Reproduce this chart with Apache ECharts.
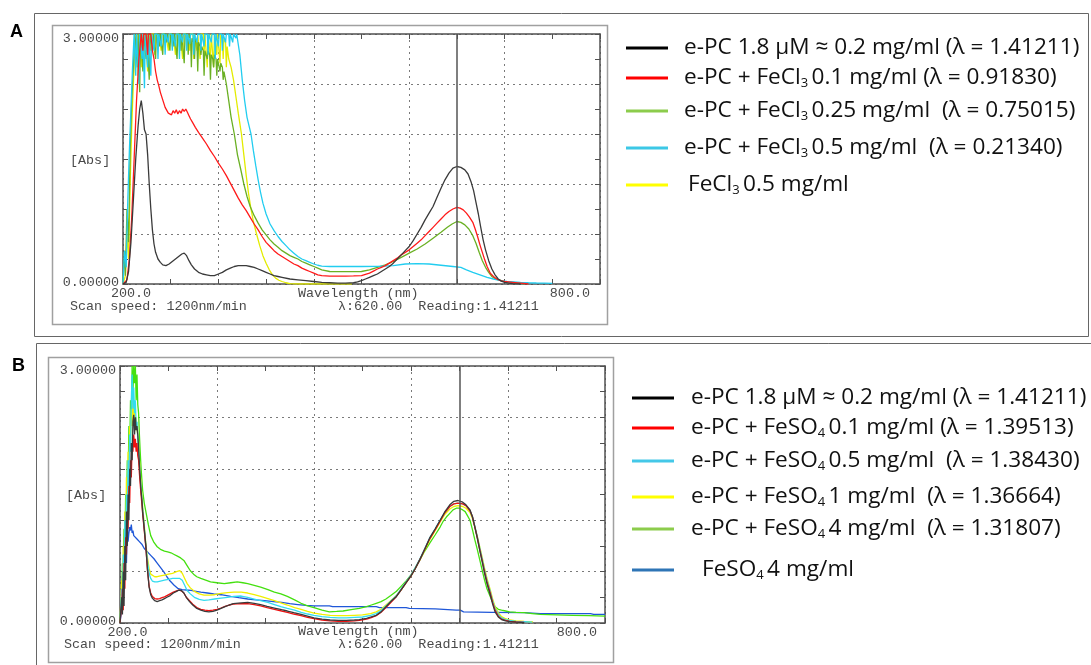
<!DOCTYPE html>
<html><head><meta charset="utf-8">
<script src="https://cdn.jsdelivr.net/npm/echarts@6/dist/echarts.min.js"></script>
<style>html,body{margin:0;padding:0;background:#fff;}#c{width:1091px;height:665px;}</style>
</head><body><div id="c"></div>
<script>
// ---------- Panel A (FeCl3) : [wavelength nm, Abs] ----------
const aBlack = [[200,0],[204,0.02],[207,0.15],[210,0.5],[213,1.0],[216,1.5],[219,1.9],[221,2.1],[223,2.2],[225,2.05],[227,1.85],[229,1.8],[231,1.55],[233,1.2],[235,0.9],[237,0.65],[239,0.48],[241,0.38],[244,0.3],[247,0.26],[250,0.23],[254,0.22],[258,0.24],[262,0.27],[266,0.3],[270,0.33],[274,0.36],[277,0.37],[280,0.34],[283,0.28],[286,0.23],[290,0.18],[295,0.14],[300,0.12],[305,0.11],[310,0.1],[315,0.1],[320,0.12],[325,0.14],[330,0.17],[335,0.19],[340,0.21],[345,0.22],[350,0.22],[355,0.22],[360,0.21],[365,0.2],[370,0.18],[375,0.16],[380,0.14],[385,0.12],[390,0.1],[395,0.09],[400,0.08],[410,0.06],[420,0.05],[430,0.04],[440,0.03],[450,0.02],[460,0.015],[470,0.01],[480,0.01],[490,0.015],[495,0.025],[500,0.04],[505,0.06],[510,0.08],[515,0.1],[520,0.12],[525,0.15],[530,0.18],[535,0.21],[540,0.25],[545,0.3],[550,0.35],[555,0.4],[560,0.45],[565,0.52],[570,0.6],[575,0.68],[580,0.77],[585,0.85],[590,0.93],[595,1.04],[600,1.15],[605,1.25],[610,1.33],[615,1.39],[620,1.41],[625,1.4],[630,1.37],[634,1.32],[638,1.22],[641,1.12],[644,0.98],[647,0.84],[650,0.68],[653,0.53],[656,0.41],[660,0.28],[664,0.18],[668,0.11],[672,0.06],[676,0.035],[680,0.02],[685,0.01],[690,0.005],[700,0]];
const aRed = [[200,0],[205,0.05],[208,0.3],[211,0.8],[214,1.5],[217,2.2],[220,2.7],[223,3],[225,2.8],[226,3],[229,3],[231,2.75],[232,3],[235,3],[237,2.8],[239,2.7],[241,2.55],[243,2.45],[245,2.38],[247,2.3],[249,2.24],[251,2.18],[253,2.12],[255,2.1],[257,2.05],[259,2.07],[261,2.03],[263,2.08],[265,2.05],[267,2.09],[269,2.04],[271,2.08],[273,2.05],[275,2.1],[277,2.07],[279,2.1],[281,2.06],[283,2.02],[285,1.98],[288,1.93],[291,1.88],[295,1.82],[300,1.75],[305,1.68],[310,1.6],[315,1.53],[320,1.45],[325,1.38],[330,1.3],[335,1.21],[340,1.12],[345,1.03],[350,0.95],[355,0.88],[360,0.8],[365,0.72],[370,0.65],[375,0.57],[380,0.5],[385,0.45],[390,0.4],[395,0.36],[400,0.33],[405,0.3],[410,0.27],[415,0.24],[420,0.22],[425,0.19],[430,0.17],[435,0.15],[440,0.13],[445,0.11],[450,0.1],[460,0.095],[470,0.095],[480,0.095],[490,0.097],[500,0.1],[505,0.115],[510,0.13],[515,0.155],[520,0.18],[525,0.2],[530,0.22],[535,0.25],[540,0.28],[545,0.31],[550,0.35],[555,0.38],[560,0.41],[565,0.45],[570,0.49],[575,0.53],[580,0.58],[585,0.63],[590,0.68],[595,0.73],[600,0.78],[605,0.83],[610,0.87],[615,0.9],[620,0.92],[624,0.91],[628,0.89],[632,0.85],[636,0.8],[640,0.74],[643,0.66],[646,0.57],[649,0.47],[652,0.38],[655,0.29],[658,0.21],[662,0.13],[666,0.09],[670,0.06],[675,0.04],[680,0.03],[690,0.02],[700,0.01],[710,0]];
const aGreen = [[200,0],[202,0.4],[203,0.1],[205,0.9],[207,0.5],[209,1.6],[211,2.2],[213,2.6],[215,3],
  [217,3],[218,2.6],[219,3],[220,3],[221,2.3],[222,3],[224,3],[225,2.55],[226,3],[228,3],[229,2.7],[230,3],[232,3],[233,2.45],[234,3],[236,3],[237,2.8],[238,3],[240,3],[241,2.7],[242,3],[245,3],[246,2.85],[247,3],[249,3],[250,2.75],[251,3],[254,3],[255,2.9],[256,3],[258,3],[259,2.8],[260,3],[263,3],[264,2.85],[265,3],[267,3],[268,2.7],[269,3],[272,3],[273,2.8],[274,3],[276,3],[277,2.65],[278,3],[281,3],[282,2.75],[283,3],[285,2.95],[286,2.6],[287,2.95],[289,2.9],[290,2.7],[291,2.95],[293,2.9],[294,2.55],[295,2.9],[297,2.85],[298,2.75],[299,2.85],[301,2.8],[302,2.5],[303,2.8],[305,2.8],[306,2.7],[307,2.8],[309,2.75],[310,2.45],[311,2.75],[313,2.7],[314,2.6],[315,2.75],[317,2.7],[318,2.5],[319,2.7],[321,2.68],[322,2.55],[323,2.65],[325,2.6],[326,2.45],[327,2.55],
  [330,2.4],[333,2.2],[336,2.0],[340,1.8],[344,1.55],[348,1.38],[352,1.2],[356,1.05],[360,0.93],[365,0.82],[370,0.73],[375,0.65],[380,0.59],[385,0.53],[390,0.48],[395,0.44],[400,0.4],[405,0.37],[410,0.34],[415,0.32],[420,0.3],[425,0.27],[430,0.25],[435,0.23],[440,0.21],[445,0.19],[450,0.17],[460,0.15],[480,0.148],[500,0.15],[510,0.17],[520,0.2],[530,0.23],[540,0.27],[550,0.32],[560,0.37],[570,0.42],[580,0.48],[590,0.55],[600,0.62],[608,0.68],[614,0.72],[620,0.75],[625,0.74],[630,0.71],[635,0.66],[640,0.58],[644,0.49],[648,0.38],[652,0.28],[656,0.2],[660,0.14],[664,0.09],[668,0.065],[672,0.05],[680,0.03],[690,0.02],[700,0.01],[705,0]];
const aCyan = [[200,0],[202,0.4],[204,0.2],[206,1.0],[208,1.6],[210,2.1],[212,2.6],[214,3],
  [215,3],[216,2.5],[217,3],[219,3],[220,2.4],[221,3],[223,3],[224,2.7],[225,3],[226,3],[227,2.35],[228,3],[230,3],[231,2.6],[232,3],[234,3],[235,2.5],[236,3],[238,3],[239,2.8],[240,3],[243,3],[244,2.7],[245,3],[247,3],[248,2.85],[249,3],[252,3],[253,2.75],[254,3],[256,3],[257,2.9],[258,3],[261,3],[262,2.8],[263,3],[265,3],[266,2.85],[267,3],[270,3],[271,2.7],[272,3],[274,3],[275,2.9],[276,3],[279,3],[280,2.8],[281,3],[283,3],[284,2.88],[285,3],[288,3],[289,2.75],[290,3],[292,3],[293,2.9],[294,3],[297,3],[298,2.8],[299,3],[301,3],[302,2.85],[303,3],[306,3],[307,2.75],[308,3],[310,3],[311,2.9],[312,3],[315,3],[316,2.7],[317,3],[319,3],[320,2.85],[321,3],[324,3],[325,2.8],[326,3],[328,3],[329,2.9],[330,3],[333,3],[334,2.85],[335,3],[337,3],[338,2.9],[339,3],[341,3],[342,2.95],[343,3],[345,3],
  [347,2.75],[350,2.45],[353,2.2],[356,2.0],[359,1.88],[361,1.8],[364,1.6],[367,1.42],[370,1.25],[373,1.1],[376,0.97],[380,0.84],[385,0.72],[390,0.64],[395,0.57],[400,0.51],[405,0.46],[410,0.41],[415,0.37],[420,0.33],[425,0.3],[430,0.28],[435,0.26],[440,0.24],[445,0.225],[450,0.215],[460,0.21],[480,0.21],[500,0.21],[520,0.212],[540,0.22],[555,0.24],[570,0.245],[585,0.24],[600,0.225],[615,0.21],[625,0.2],[632,0.17],[640,0.14],[649,0.11],[658,0.08],[666,0.06],[675,0.04],[683,0.03],[692,0.025],[700,0.02],[710,0.015],[720,0.012],[730,0.01],[740,0.008]];
const aYellow = [[200,0],[203,0.1],[205,0.6],[207,0.3],[209,1.2],[211,1.9],[213,2.4],[215,2.8],[217,3],
  [218,3],[219,2.5],[220,3],[222,3],[223,2.6],[224,3],[226,3],[227,2.7],[228,3],[230,3],[231,2.55],[232,3],[234,3],[235,2.8],[236,3],[239,3],[240,2.75],[241,3],[243,3],[244,2.85],[245,3],[247,3],[248,2.8],[249,3],[252,3],[253,2.9],[254,3],[256,3],[257,2.8],[258,3],[261,3],[262,2.85],[263,3],[265,3],[266,2.75],[267,3],[270,3],[271,2.85],[272,3],[274,3],[275,2.7],[276,3],[279,3],[280,2.85],[281,3],[283,3],[284,2.8],[285,3],[288,3],[289,2.7],[290,3],[292,3],[293,2.8],[294,3],[296,3],[297,2.7],[298,3],[301,3],[302,2.75],[303,3],[305,3],[306,2.6],[307,3],[309,3],[310,2.7],[311,3],[313,3],[314,2.6],[315,3],[317,3],[318,2.75],[319,3],[321,3],[322,2.65],[323,3],[325,2.95],[326,2.7],[327,2.95],[329,2.9],[330,2.6],[331,2.85],
  [333,2.7],[336,2.6],[339,2.45],[342,2.25],[345,2.05],[349,1.8],[352,1.55],[355,1.3],[358,1.08],[361,0.9],[364,0.75],[368,0.6],[372,0.46],[376,0.34],[380,0.25],[384,0.17],[388,0.11],[392,0.07],[396,0.045],[400,0.03],[405,0.015],[410,0.005],[420,0],[488,0]];

// ---------- Panel B (FeSO4) ----------
const bBlack = [[200,0],[202,0.3],[203,0.1],[204,0.6],[205,0.2],[206,0.9],[207,0.5],[208,1.3],[209,0.9],[210,1.5],[211,1.2],[212,1.8],[213,1.6],[214,2.1],[215,1.9],[216,2.35],[217,2.43],[218,2.2],[219,2.4],[220,2.25],[221,2.3],[222,2.2],[223,2.05],[224,1.85],[225,1.7],[226,1.55],[227,1.45],[228,1.3],[230,1.1],[232,0.9],[234,0.62],[236,0.42],[238,0.33],[240,0.29],[243,0.26],[246,0.25],[249,0.26],[252,0.27],[255,0.285],[258,0.3],[262,0.32],[266,0.35],[270,0.37],[273,0.385],[276,0.38],[279,0.35],[282,0.3],[286,0.25],[290,0.21],[295,0.17],[300,0.15],[305,0.135],[310,0.13],[315,0.135],[320,0.15],[325,0.17],[330,0.19],[335,0.21],[340,0.225],[350,0.235],[358,0.24],[366,0.23],[374,0.215],[382,0.195],[391,0.175],[400,0.155],[407,0.14],[415,0.12],[424,0.1],[432,0.08],[440,0.06],[450,0.045],[460,0.035],[470,0.03],[480,0.03],[490,0.035],[496,0.04],[505,0.055],[510,0.07],[517,0.09],[523,0.13],[529,0.19],[535,0.25],[542,0.31],[548,0.39],[554,0.47],[560,0.55],[565,0.63],[571,0.74],[577,0.86],[583,0.99],[590,1.1],[596,1.2],[602,1.3],[608,1.38],[613,1.42],[618,1.43],[624,1.41],[628,1.38],[633,1.32],[636,1.24],[639,1.12],[642,0.99],[645,0.85],[648,0.72],[651,0.58],[654,0.46],[658,0.33],[661,0.22],[664,0.13],[668,0.07],[672,0.04],[677,0.025],[682,0.015],[690,0.01],[700,0.005]];
const bRed = [[200,0],[202,0.2],[203,0.4],[204,0.15],[205,0.7],[206,0.4],[207,1.0],[208,0.8],[209,1.3],[210,1.1],[211,1.6],[212,1.4],[213,1.9],[214,1.7],[215,2.1],[216,2.0],[217,2.2],[218,2.05],[219,2.15],[220,2.0],[221,2.1],[222,1.95],[223,1.9],[224,1.75],[225,1.62],[226,1.5],[227,1.4],[228,1.28],[230,1.08],[232,0.88],[234,0.62],[236,0.43],[238,0.35],[240,0.31],[243,0.285],[246,0.28],[249,0.285],[252,0.295],[255,0.305],[258,0.32],[262,0.34],[266,0.36],[270,0.375],[273,0.385],[276,0.375],[279,0.35],[282,0.3],[286,0.26],[290,0.22],[295,0.18],[300,0.16],[305,0.15],[310,0.145],[315,0.15],[320,0.16],[325,0.175],[330,0.195],[335,0.21],[340,0.22],[350,0.225],[358,0.225],[366,0.215],[374,0.2],[382,0.18],[391,0.16],[400,0.14],[407,0.125],[415,0.105],[424,0.085],[432,0.065],[440,0.05],[450,0.035],[460,0.025],[470,0.02],[480,0.02],[490,0.025],[496,0.03],[505,0.045],[510,0.06],[517,0.085],[523,0.125],[529,0.18],[535,0.24],[542,0.31],[548,0.39],[554,0.47],[560,0.55],[565,0.63],[571,0.74],[577,0.86],[583,0.98],[590,1.09],[596,1.19],[602,1.29],[608,1.36],[613,1.39],[618,1.4],[624,1.39],[628,1.37],[633,1.31],[636,1.24],[639,1.12],[642,1.0],[645,0.86],[648,0.73],[651,0.6],[654,0.48],[658,0.35],[661,0.24],[664,0.15],[668,0.08],[672,0.045],[677,0.03],[682,0.02],[690,0.012],[700,0.008]];
const bCyan = [[200,0],[202,0.4],[203,0.15],[204,0.8],[205,0.5],[206,1.2],[207,0.9],[208,1.5],[209,1.3],[210,1.9],[211,1.6],[212,2.2],[213,2.0],[214,2.6],[215,2.9],[216,2.5],[217,2.75],[218,2.45],[219,2.6],[220,2.3],[221,2.35],[222,2.15],[223,2.0],[224,1.85],[225,1.7],[226,1.58],[227,1.45],[228,1.33],[230,1.12],[232,0.9],[234,0.72],[236,0.58],[238,0.52],[240,0.49],[243,0.48],[246,0.48],[250,0.49],[255,0.5],[260,0.51],[265,0.52],[270,0.52],[274,0.52],[277,0.5],[280,0.44],[283,0.38],[287,0.34],[292,0.3],[298,0.275],[304,0.265],[310,0.27],[317,0.28],[325,0.29],[333,0.3],[341,0.31],[350,0.315],[358,0.3],[366,0.28],[374,0.26],[383,0.24],[391,0.215],[399,0.19],[407,0.17],[416,0.15],[424,0.125],[432,0.105],[440,0.09],[450,0.075],[460,0.065],[470,0.06],[480,0.06],[490,0.065],[500,0.07],[510,0.09],[517,0.11],[523,0.145],[529,0.2],[535,0.255],[542,0.32],[548,0.4],[554,0.48],[560,0.56],[565,0.64],[571,0.75],[577,0.87],[583,0.99],[590,1.1],[596,1.2],[602,1.29],[608,1.36],[613,1.39],[618,1.4],[624,1.39],[628,1.37],[633,1.31],[636,1.24],[639,1.13],[642,1.01],[645,0.88],[648,0.75],[651,0.62],[654,0.5],[658,0.37],[661,0.26],[664,0.17],[668,0.1],[672,0.06],[677,0.04],[682,0.03],[690,0.02],[700,0.015],[710,0.01]];
const bYellow = [[200,0],[202,0.5],[203,0.2],[204,0.9],[205,0.6],[206,1.3],[207,1.0],[208,1.7],[209,1.4],[210,2.0],[211,1.8],[212,2.3],[213,2.1],[214,2.5],[215,2.3],[216,2.6],[217,2.4],[218,2.55],[219,2.3],[220,2.4],[221,2.25],[222,2.2],[223,2.05],[224,1.9],[225,1.75],[226,1.6],[227,1.48],[228,1.36],[230,1.15],[232,0.92],[234,0.76],[236,0.64],[238,0.57],[240,0.55],[243,0.54],[246,0.54],[250,0.55],[255,0.56],[260,0.57],[265,0.58],[270,0.6],[274,0.61],[277,0.58],[280,0.52],[283,0.46],[287,0.41],[292,0.37],[298,0.34],[304,0.325],[310,0.325],[317,0.33],[325,0.345],[333,0.355],[341,0.36],[350,0.36],[358,0.35],[366,0.33],[374,0.31],[383,0.285],[391,0.26],[399,0.235],[407,0.21],[416,0.18],[424,0.16],[432,0.135],[440,0.115],[450,0.1],[460,0.09],[470,0.085],[480,0.085],[490,0.09],[500,0.095],[510,0.11],[517,0.13],[523,0.16],[529,0.21],[535,0.26],[542,0.32],[548,0.39],[554,0.47],[560,0.55],[565,0.63],[571,0.74],[577,0.85],[583,0.97],[590,1.08],[596,1.18],[602,1.27],[608,1.33],[613,1.36],[618,1.37],[624,1.36],[628,1.34],[633,1.29],[636,1.22],[639,1.12],[642,1.01],[645,0.89],[648,0.77],[651,0.64],[654,0.52],[658,0.39],[661,0.28],[664,0.19],[668,0.12],[672,0.075],[677,0.05],[682,0.035],[690,0.025],[700,0.018],[711,0.012]];
const bGreen = [[200,0],[202,0.3],[203,0.7],[204,0.4],[205,1.1],[206,0.8],[207,1.5],[208,1.2],[209,1.9],[210,1.6],[211,2.3],[212,2.0],[213,2.6],[214,2.4],[215,3],[216,2.7],[217,3],[218,2.8],[219,3],[220,2.6],[221,2.9],[222,2.55],[223,2.45],[224,2.2],[225,2.0],[226,1.82],[227,1.68],[228,1.55],[230,1.4],[232,1.3],[235,1.15],[238,1.02],[242,0.94],[246,0.89],[250,0.86],[255,0.84],[259,0.83],[263,0.82],[267,0.8],[271,0.78],[275,0.76],[279,0.73],[283,0.67],[287,0.61],[291,0.57],[295,0.54],[300,0.52],[306,0.5],[312,0.48],[320,0.47],[329,0.46],[337,0.47],[345,0.48],[352,0.47],[358,0.46],[366,0.44],[374,0.42],[383,0.39],[391,0.36],[399,0.34],[407,0.31],[416,0.27],[424,0.23],[432,0.2],[440,0.18],[450,0.15],[459,0.13],[468,0.135],[476,0.14],[486,0.155],[496,0.17],[505,0.19],[511,0.21],[517,0.23],[523,0.25],[529,0.28],[535,0.32],[542,0.37],[548,0.43],[554,0.49],[560,0.56],[565,0.64],[571,0.74],[577,0.84],[583,0.93],[590,1.03],[596,1.12],[600,1.19],[604,1.24],[608,1.28],[612,1.32],[616,1.34],[620,1.34],[624,1.32],[627,1.3],[630,1.25],[633,1.2],[636,1.09],[639,0.97],[642,0.86],[645,0.74],[648,0.62],[651,0.5],[654,0.4],[658,0.31],[661,0.24],[664,0.19],[668,0.16],[672,0.15],[677,0.14],[682,0.13],[690,0.125],[700,0.12],[710,0.11],[720,0.1],[740,0.095],[760,0.09],[780,0.085],[800,0.08]];
const bBlue = [[200,0],[202,0.15],[203,0.5],[204,0.2],[205,0.9],[206,0.6],[207,1.1],[208,0.7],[209,1.15],[210,0.95],[211,1.05],[212,1.12],[213,1.08],[214,1.15],[215,1.05],[216,1.08],[217,1.02],[219,1.04],[221,0.98],[224,0.95],[227,0.92],[230,0.87],[234,0.83],[238,0.79],[242,0.75],[246,0.7],[250,0.65],[254,0.6],[258,0.54],[262,0.49],[267,0.44],[272,0.4],[277,0.39],[282,0.385],[288,0.38],[294,0.37],[300,0.36],[308,0.35],[316,0.34],[325,0.33],[337,0.31],[347,0.295],[358,0.28],[368,0.27],[379,0.26],[390,0.25],[400,0.24],[410,0.225],[420,0.215],[430,0.205],[440,0.2],[459,0.2],[463,0.19],[490,0.19],[517,0.19],[521,0.18],[554,0.18],[558,0.17],[590,0.165],[616,0.15],[621,0.15],[625,0.13],[660,0.125],[700,0.12],[720,0.11],[760,0.11],[782,0.11],[786,0.1],[800,0.1]];

// ---------- names, ticks, annotations ----------
const aNames = ['e-PC 1.8 μM ≈ 0.2 mg/ml (λ = 1.41211)','e-PC + FeCl3 0.1 mg/ml (λ = 0.91830)','e-PC + FeCl3 0.25 mg/ml  (λ = 0.75015)','e-PC + FeCl3 0.5 mg/ml  (λ = 0.21340)','FeCl3 0.5 mg/ml'];
const bNames = ['e-PC 1.8 μM ≈ 0.2 mg/ml (λ = 1.41211) ','e-PC + FeSO4 0.1 mg/ml (λ = 1.39513)','e-PC + FeSO4 0.5 mg/ml  (λ = 1.38430)','e-PC + FeSO4 1 mg/ml  (λ = 1.36664)','e-PC + FeSO4 4 mg/ml  (λ = 1.31807)','FeSO4 4 mg/ml'];
const xRange = [200, 800];
const yRange = [0, 3];
const xTickLabels = ['200.0', '800.0'];
const yTickLabels = ['0.00000', '3.00000'];
const cursorNm = 620;
const infoTexts = ['[Abs]', 'Wavelength (nm)', 'Scan speed: 1200nm/min', 'λ:620.00  Reading:1.41211'];

const MONO = '"Liberation Mono","DejaVu Sans Mono",monospace';
const SANS = '"Open Sans","Liberation Sans",Arial,sans-serif';
const LABEL = '"Liberation Sans",Arial,sans-serif';
const TXT = '#4a4a4a';
const AX = '#505050';

function xAxes(grid, padL, padR) {
  const base = {gridIndex: grid, type:'value', min:xRange[0], max:xRange[1], interval:120,
    axisLine:{show:true, onZero:false, lineStyle:{color:AX, width:1.5}},
    axisTick:{show:true, inside:true, length:5, lineStyle:{color:AX}},
    minorTick:{show:true, splitNumber:2, length:5, lineStyle:{color:AX}}};
  return [
    Object.assign({}, base, {position:'bottom',
      splitLine:{show:true, lineStyle:{color:'#7a7a7a', width:1, type:[2,4]}},
      axisLabel:{show:true, margin:3, color:TXT, fontFamily:MONO, fontSize:13.4, alignMaxLabel:'right',
        formatter: v => v === xRange[0] ? '{l|' + xTickLabels[0] + '}' : (v === xRange[1] ? '{r|' + xTickLabels[1] + '}' : ''),
        rich:{l:{padding:[0,0,0,padL], fontFamily:MONO, fontSize:13.4, color:TXT}, r:{padding:[0,padR,0,0], fontFamily:MONO, fontSize:13.4, color:TXT}}}}),
    Object.assign({}, base, {position:'top', splitLine:{show:false}, axisLabel:{show:false}})
  ];
}
function yAxes(grid) {
  const base = {gridIndex: grid, type:'value', min:yRange[0], max:yRange[1], interval:0.6,
    axisLine:{show:true, onZero:false, lineStyle:{color:AX, width:1.5}},
    axisTick:{show:true, inside:true, length:5, lineStyle:{color:AX}},
    minorTick:{show:true, splitNumber:2, length:5, lineStyle:{color:AX}}};
  return [
    Object.assign({}, base, {position:'left',
      splitLine:{show:true, lineStyle:{color:'#7a7a7a', width:1, type:[2,4]}},
      axisLabel:{show:true, margin:4, color:TXT, fontFamily:MONO, fontSize:13.4,
        formatter: v => Math.abs(v - yRange[0]) < 1e-6 ? '{b|' + yTickLabels[0] + '}' : (Math.abs(v - yRange[1]) < 1e-6 ? '{t|' + yTickLabels[1] + '}' : ''),
        rich:{t:{padding:[8,0,0,0], fontFamily:MONO, fontSize:13.4, color:TXT}, b:{padding:[0,0,4,0], fontFamily:MONO, fontSize:13.4, color:TXT}}}}),
    Object.assign({}, base, {position:'right', splitLine:{show:false}, axisLabel:{show:false}})
  ];
}

const cursor = {silent:true, symbol:['none','none'], label:{show:false}, animation:false,
  lineStyle:{color:'#555', width:1.5, type:'solid'}, data:[{xAxis: cursorNm}]};

function line(name, data, color, xi, yi, extra) {
  return Object.assign({type:'line', name, data, xAxisIndex:xi, yAxisIndex:yi, showSymbol:false, symbol:'none',
    lineStyle:{color, width:1.3}, itemStyle:{color}, animation:false, clip:true}, extra || {});
}

const aColors = ['#3a3a3a','#ff1a1a','#6ab023','#22cdf0','#e3ec00'];
const bColors = ['#3a3a3a','#ee1111','#33dcef','#f0f000','#44e00f','#1f57d8'];
const aLegendColors = ['#000000','#ff0000','#8ccc4c','#3cc8e6','#ffff00'];
const bLegendColors = ['#000000','#ff0000','#44c8e8','#ffff00','#8ccc4c','#2e75b6'];

const series = [
  line(aNames[4], aYellow, aColors[4], 0, 0),
  line(aNames[2], aGreen, aColors[2], 0, 0),
  line(aNames[3], aCyan, aColors[3], 0, 0),
  line(aNames[1], aRed, aColors[1], 0, 0),
  line(aNames[0], aBlack, aColors[0], 0, 0, {markLine: cursor}),
  line(bNames[5], bBlue, bColors[5], 2, 2),
  line(bNames[4], bGreen, bColors[4], 2, 2),
  line(bNames[3], bYellow, bColors[3], 2, 2),
  line(bNames[2], bCyan, bColors[2], 2, 2),
  line(bNames[1], bRed, bColors[1], 2, 2),
  line(bNames[0], bBlack, bColors[0], 2, 2, {markLine: cursor})
];

const fmt = n => n.trim().replace('FeCl3 ', 'FeCl{s|3 }').replace('FeSO4 ', 'FeSO{s|4 }');
function legendItem(name, color, left, cy, textPad) {
  return {show:true, left, top: cy - 13, padding:0, orient:'vertical', icon:'rect', itemWidth:42, itemHeight:3,
    selectedMode:false, data:[{name, itemStyle:{color}}], formatter: fmt,
    textStyle:{fontFamily:SANS, fontSize:22.6, lineHeight:26, color:'#111', padding:[0,0,0,textPad],
      rich:{s:{fontFamily:SANS, fontSize:13, lineHeight:13, verticalAlign:'bottom', color:'#111', padding:[0,0,1,0]}}}};
}
const aLegY = [48, 78, 111, 148, 185];
const bLegY = [398, 428, 461, 497, 529, 570];
const legends = [];
aNames.forEach((n, i) => legends.push(legendItem(n, aLegendColors[i], 626, aLegY[i], i === 4 ? 15 : 11)));
bNames.forEach((n, i) => legends.push(legendItem(n, bLegendColors[i], 632, bLegY[i], i === 5 ? 23 : 12)));

function txt(text, x, y, font, fill) {
  return {type:'text', x, y, silent:true, style:{text, font, fill, textAlign:'left', textVerticalAlign:'middle', align:'left', verticalAlign:'middle'}};
}
function box(x, y, w, h, stroke, lw) {
  return {type:'rect', silent:true, shape:{x, y, width:w, height:h}, style:{fill:'none', stroke, lineWidth:lw}};
}
const monoFont = '13.4px ' + MONO;
const graphic = [
  box(34.5, 13.5, 1054, 323, '#666', 1),
  box(52.5, 25.5, 555, 299, '#a0a0a0', 1.5),
  box(36.5, 343.5, 1060, 330, '#666', 1),
  box(48.5, 357.5, 565, 305, '#a0a0a0', 1.5),
  txt('A', 10, 32, 'bold 18px ' + LABEL, '#000'),
  txt('B', 12, 366, 'bold 18px ' + LABEL, '#000'),
  txt(infoTexts[0], 70, 160, monoFont, TXT),
  txt(infoTexts[1], 298, 293, monoFont, TXT),
  txt(infoTexts[2], 70, 306, monoFont, TXT),
  txt(infoTexts[3], 338, 306, monoFont, TXT),
  txt(infoTexts[0], 66, 495, monoFont, TXT),
  txt(infoTexts[1], 298, 631, monoFont, TXT),
  txt(infoTexts[2], 64, 644, monoFont, TXT),
  txt(infoTexts[3], 338, 644, monoFont, TXT)
];

const chart = echarts.init(document.getElementById('c'), null, {renderer:'canvas'});
chart.setOption({
  backgroundColor:'#ffffff',
  animation:false,
  grid:[{left:123, top:34, width:477, height:250}, {left:120, top:366, width:485, height:257}],
  xAxis: xAxes(0, 16, 10).concat(xAxes(1, 15, 8)),
  yAxis: yAxes(0).concat(yAxes(1)),
  legend: legends,
  series,
  graphic
});
</script></body></html>
